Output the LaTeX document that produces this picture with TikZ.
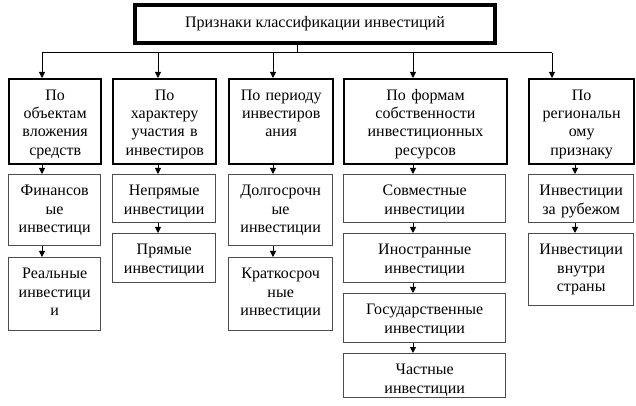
\documentclass[tikz,border=0pt]{standalone}
\usepackage{fontspec}
\setmainfont{Liberation Serif}
\usepackage{tikz}
\usetikzlibrary{positioning, arrows.meta, calc}

\begin{document}
\begin{tikzpicture}[x=0.75pt, y=-0.75pt, font=\fontsize{12}{13.8}\selectfont]
		\tikzstyle{head} = [draw=black, line width=2.5pt, minimum width=270pt, minimum height=28.5pt, text centered]
		\tikzstyle{group} = [draw=black, line width=1.75pt, anchor=north west, align=center, inner xsep=2pt, inner ysep=0pt, text height=15.75pt, text depth=48pt]
		\tikzstyle{item} = [draw=black!70, line width=1pt, anchor=north west, align=center, inner xsep=2pt, inner ysep=0pt, text height=15.75pt]
		\tikzstyle{link} = [-{Triangle[length=4.5pt,width=4.5pt]}, line width=0.75pt]
		\tikzstyle{line} = [draw, line width=0.75pt]
		\useasboundingbox (0,0) rectangle (636,406);
		% main box
		\node [head] (v0) at (315,24) {Признаки классификации инвестиций};
		% groups
		\node [group, text width=65pt] (v1) at (8,78) {По\\объектам\\вложения\\средств};
		\node [group, text width=73.25pt] (v2) at (112,78) {По\\характеру\\участия в\\инвестиров};
		\node [group, text width=74pt] (v3) at (228,78) {По периоду\\инвестиров\\ания};
		\node [group, text width=118pt] (v4) at (343,78) {По формам\\собственности\\инвестиционных\\ресурсов};
		\node [group, text width=74.75pt] (v5) at (528,78) {По\\региональн\\ому\\признаку};
		% items
		\node [item, text width=65pt, text depth=37.5pt] (v11) at (8,174) {Финансов\\ые\\инвестици};
		\node [item, text width=65pt, text depth=39pt] (v12) at (8,257) {Реальные\\инвестици\\и};
		\node [item, text width=73.25pt, text depth=20.25pt] (v21) at (112,174) {Непрямые\\инвестиции};
		\node [item, text width=73.25pt, text depth=21pt] (v22) at (112,233) {Прямые\\инвестиции};
		\node [item, text width=74pt, text depth=37.5pt] (v31) at (228,174) {Долгосрочн\\ые\\инвестиции};
		\node [item, text width=74pt, text depth=39pt] (v32) at (228,257) {Краткосроч\\ные\\инвестиции};
		\node [item, text width=117.5pt, text depth=20.25pt] (v41) at (343,174) {Совместные\\инвестиции};
		\node [item, text width=117.5pt, text depth=21pt] (v42) at (343,233) {Иностранные\\инвестиции};
		\node [item, text width=117.5pt, text depth=21pt] (v43) at (343,293) {Государственные\\инвестиции};
		\node [item, text width=117.5pt, text depth=17.25pt] (v44) at (343,353) {Частные\\инвестиции};
		\node [item, text width=74.75pt, text depth=20.25pt] (v51) at (528,174) {Инвестиции\\за рубежом};
		\node [item, text width=74.75pt, text depth=38.25pt] (v52) at (528,233) {Инвестиции\\внутри\\страны};
		% bus
		\coordinate (b0) at (297,53);
		\coordinate (b1) at (42,53);
		\coordinate (b2) at (158,53);
		\coordinate (b3) at (273,53);
		\coordinate (b4) at (413,53);
		\coordinate (b5) at (552,53);
		\coordinate (k5) at (575,53);
		\draw [line] (v0.south -| b0) -- (b0);
		\draw [line] (b1) -- (b5);
		\draw [link] (b1) -- (v1.north -| b1);
		\draw [link] (b2) -- (v2.north -| b2);
		\draw [link] (b3) -- (v3.north -| b3);
		\draw [link] (b4) -- (v4.north -| b4);
		\draw [link] (b5) -- (v5.north -| b5);
		% columns
		\draw [link] (v1.south -| b1) -- (v11.north -| b1);
		\draw [link] (v11.south -| b1) -- (v12.north -| b1);
		\draw [link] (v2.south -| b2) -- (v21.north -| b2);
		\draw [link] (v21.south -| b2) -- (v22.north -| b2);
		\draw [link] (v3.south -| b3) -- (v31.north -| b3);
		\draw [link] (v31.south -| b3) -- (v32.north -| b3);
		\draw [link] (v4.south -| b4) -- (v41.north -| b4);
		\draw [link] (v41.south -| b4) -- (v42.north -| b4);
		\draw [link] (v42.south -| b4) -- (v43.north -| b4);
		\draw [link] (v43.south -| b4) -- (v44.north -| b4);
		\draw [link] (v5.south -| k5) -- (v51.north -| k5);
		\draw [link] (v51.south -| k5) -- (v52.north -| k5);
\end{tikzpicture}
\end{document}
